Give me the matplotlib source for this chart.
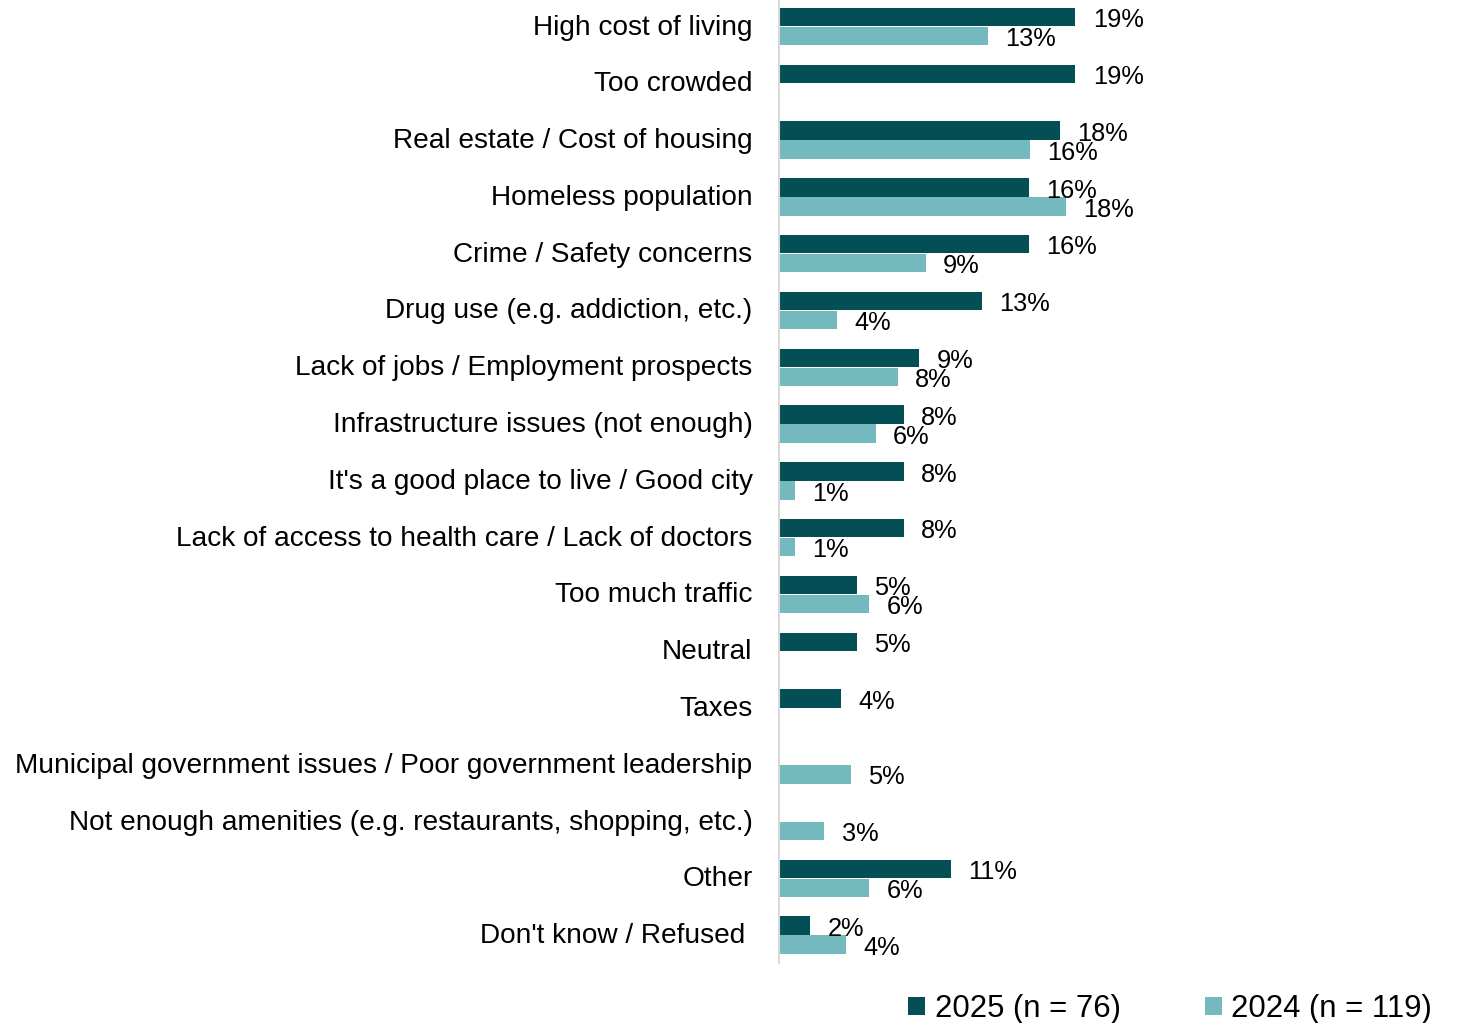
import matplotlib
matplotlib.use("Agg")
import matplotlib.pyplot as plt
import matplotlib.transforms as mtransforms
import numpy as np

plt.rcParams['font.family'] = ['Liberation Sans', 'DejaVu Sans']

categories = [
    "High cost of living",
    "Too crowded",
    "Real estate / Cost of housing",
    "Homeless population",
    "Crime / Safety concerns",
    "Drug use (e.g. addiction, etc.)",
    "Lack of jobs / Employment prospects",
    "Infrastructure issues (not enough)",
    "It's a good place to live / Good city",
    "Lack of access to health care / Lack of doctors",
    "Too much traffic",
    "Neutral",
    "Taxes",
    "Municipal government issues / Poor government leadership",
    "Not enough amenities (e.g. restaurants, shopping, etc.)",
    "Other",
    "Don't know / Refused ",
]
values_2025 = [19, 19, 18, 16, 16, 13, 9, 8, 8, 8, 5, 5, 4, None, None, 11, 2]
values_2024 = [13.4, None, 16.1, 18.4, 9.4, 3.7, 7.6, 6.2, 1.0, 1.0, 5.8, None, None, 4.6, 2.9, 5.8, 4.3]
series_labels = ["2025 (n = 76)", "2024 (n = 119)"]

c2025 = "#044F56"
c2024 = "#74B9BE"

W, H = 1458, 1023
fig = plt.figure(figsize=(W / 100, H / 100), dpi=100)
ax = fig.add_axes([779 / W, 1 - 963 / H, 1 - 779 / W, 963 / H])

y = np.arange(len(categories))
bh = 0.325
off = 0.167

def draw(vals, dy, color, label):
    ys = [yy + dy for yy, v in zip(y, vals) if v is not None]
    vs = [v for v in vals if v is not None]
    bars = ax.barh(ys, vs, height=bh, color=color, label=label, edgecolor='none')
    for yy, v in zip(ys, vs):
        ax.annotate(f"{v:.0f}%", xy=(v, yy), xytext=(12.5, -2.3), textcoords='offset points',
                    ha='left', va='center', fontsize=18.3, color='black')
    return bars

draw(values_2025, -off, c2025, series_labels[0])
draw(values_2024, off, c2024, series_labels[1])

ax.set_ylim(16.49, -0.467)
ax.set_xlim(0, (W - 779) / 15.6)
ax.set_yticks(y)
ax.set_yticklabels(categories, fontsize=20.2)
ax.tick_params(axis='y', length=0, pad=19)
shift = mtransforms.ScaledTranslation(0, 2 / 100, fig.dpi_scale_trans)
for lab in ax.get_yticklabels():
    lab.set_transform(lab.get_transform() + shift)
ax.set_xticks([])
for s in ['top', 'right', 'bottom']:
    ax.spines[s].set_visible(False)
ax.spines['left'].set_color('#D9D9D9')
ax.spines['left'].set_linewidth(1.5)

fig.legend(loc='center', bbox_to_anchor=(1170 / W, 1 - 1009 / H), ncol=2, frameon=False,
           fontsize=22.4, handlelength=0.55, handleheight=0.55, handletextpad=0.3,
           columnspacing=2.7, borderaxespad=0, borderpad=0)

fig.savefig("out.png", dpi=100)
